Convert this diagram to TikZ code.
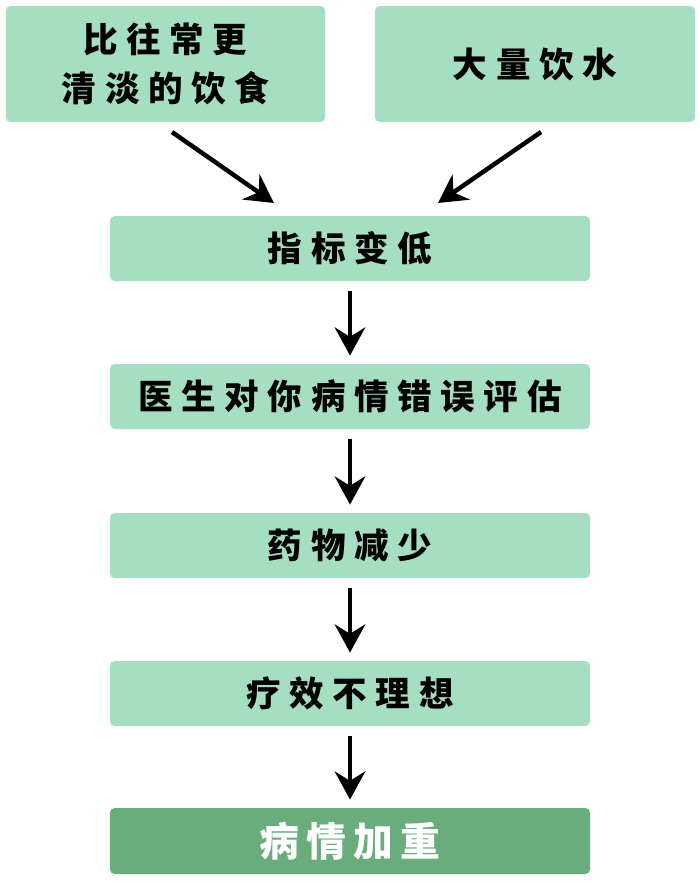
\documentclass[tikz,border=0pt]{standalone}
\usepackage{fontspec}
\usetikzlibrary{positioning, arrows.meta}
\newfontfamily\cjk[LetterSpace=25]{Noto Sans CJK SC}
\newfontfamily\cjkgrande[LetterSpace=18]{Noto Sans CJK SC}
\definecolor{claro}{HTML}{A6DEC1}
\definecolor{oscuro}{HTML}{6AAD7C}
\definecolor{tinta}{HTML}{000000}

\begin{document}
\begin{tikzpicture}[x=0.03cm, y=-0.03cm,
				caja/.style={rectangle, rounded corners=4pt, fill=claro, minimum width=14.4cm, minimum height=1.95cm, inner sep=0pt, font=\cjk\bfseries\fontsize{29.5}{42}\selectfont, text=tinta, align=center},
				flecha/.style={tinta, line width=3.8pt, -{Stealth[length=24pt, width=26pt, inset=8pt]}}]
				\useasboundingbox (0,0) rectangle (700,882);
				\node[caja, minimum width=9.57cm, minimum height=3.48cm] (dieta) at (165.5,64) {比往常更\\清淡的饮食};
				\node[caja, minimum width=9.6cm, minimum height=3.48cm]  (agua)  at (535,64)   {大量饮水};
				\node[caja] (bajo)    at (350,248.5) {指标变低};
				\node[caja] (error)   at (350,396.5) {医生对你病情错误评估};
				\node[caja] (menos)   at (350,545.5) {药物减少};
				\node[caja] (efecto)  at (350,693.5) {疗效不理想};
				\node[caja, fill=oscuro, text=white, minimum height=1.98cm, font=\cjkgrande\bfseries\fontsize{34}{42}\selectfont] (peor) at (350,841) {病情加重};
				\coordinate (d1) at (172,132);
				\coordinate (d2) at (274,203);
				\coordinate (a1) at (541,132);
				\coordinate (a2) at (438,203);
				\draw[flecha] (d1) -- (d2);
				\draw[flecha] (a1) -- (a2);
				\draw[flecha, shorten <=8.5pt, shorten >=7pt] (bajo.south) -- (error.north);
				\draw[flecha, shorten <=8.5pt, shorten >=7pt] (error.south) -- (menos.north);
				\draw[flecha, shorten <=8.5pt, shorten >=7pt] (menos.south) -- (efecto.north);
				\draw[flecha, shorten <=8.5pt, shorten >=7pt] (efecto.south) -- (peor.north);
			\end{tikzpicture}
\end{document}
